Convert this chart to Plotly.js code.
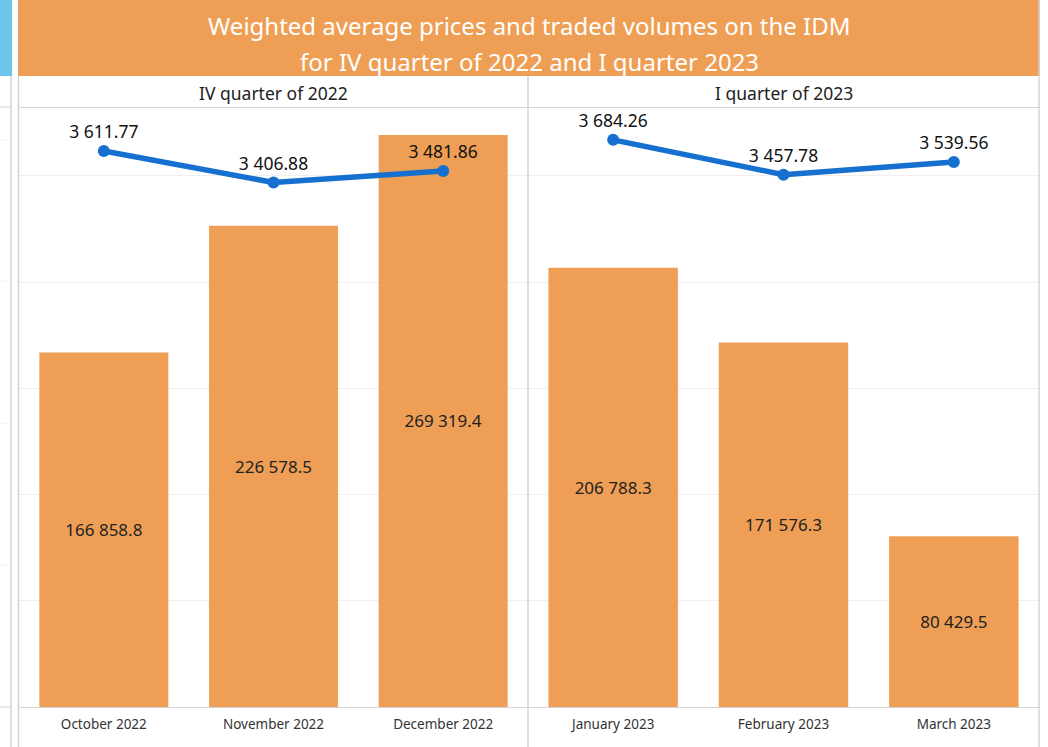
<!DOCTYPE html>
<html><head><meta charset="utf-8">
<script src="https://cdn.plot.ly/plotly-3.0.1.min.js"></script>
<style>html,body{margin:0;padding:0;background:#fff}#c{width:1048px;height:747px}</style>
</head><body><div id="c"></div>
<script>
const q4Months = ["October 2022", "November 2022", "December 2022"];
const q1Months = ["January 2023", "February 2023", "March 2023"];
const q4Volumes = [166858.8, 226578.5, 269319.4];
const q1Volumes = [206788.3, 171576.3, 80429.5];
const q4Prices = [3611.77, 3406.88, 3481.86];
const q1Prices = [3684.26, 3457.78, 3539.56];
const panelTitles = ["IV quarter of 2022", "I quarter of 2023"];
const titleLines = ["Weighted average prices and traded volumes on the IDM", "for IV quarter of 2022 and I quarter 2023"];

const W = 1048, H = 747;
const px = x => x / W, py = y => 1 - y / H;
const FONT = "Noto Sans, Open Sans, sans-serif";
const ORANGE = "#EE9F55", BLUE = "#1670D0";

function fmt(v, dec) {
  const parts = v.toFixed(dec).split(".");
  const intp = parts[0].replace(/\B(?=(\d{3})+(?!\d))/g, " ");
  return intp + (parts[1] ? "." + parts[1] : "");
}

function barTrace(xs, ys, xa, ya) {
  return {type: "bar", x: xs, y: ys, xaxis: xa, yaxis: ya, width: 0.76,
    marker: {color: ORANGE, line: {width: 0}},
    text: ys.map(v => fmt(v, 1)), textposition: "inside", insidetextanchor: "middle",
    textangle: 0, insidetextfont: {family: FONT, size: 17, color: "#222"},
    hoverinfo: "skip", showlegend: false, cliponaxis: false};
}
function lineTrace(xs, ys, xa, ya) {
  return {type: "scatter", mode: "lines+markers+text", x: xs, y: ys, xaxis: xa, yaxis: ya,
    line: {color: BLUE, width: 5.5}, marker: {color: BLUE, size: 12},
    text: ys.map(v => fmt(v, 2)), textposition: "top center",
    textfont: {family: FONT, size: 17.5, color: "#111"},
    hoverinfo: "skip", showlegend: false, cliponaxis: false};
}

const yDom = [py(707), py(108)];
const volRange = [0, 282000];
const priceRange = [0, 3891];

const data = [
  barTrace(q4Months, q4Volumes, "x", "y"),
  barTrace(q1Months, q1Volumes, "x2", "y3"),
  lineTrace(q4Months, q4Prices, "x", "y2"),
  lineTrace(q1Months, q1Prices, "x2", "y4"),
];

const xCommon = {type: "category", showgrid: false, zeroline: false, showline: false, ticks: "",
  ticklabelstandoff: 7, tickfont: {family: FONT, size: 13.5, color: "#333"}, fixedrange: true};
const yVol = {domain: yDom, range: volRange, dtick: 50000, showgrid: true, gridcolor: "#efefef", gridwidth: 1,
  zeroline: false, showticklabels: false, ticks: "", showline: false, fixedrange: true};
const yPrice = {domain: yDom, range: priceRange, showgrid: false, zeroline: false, showticklabels: false,
  ticks: "", showline: false, fixedrange: true};

const shapes = [];
function rect(x0, y0, x1, y1, color) {
  shapes.push({type: "rect", xref: "paper", yref: "paper", x0: px(x0), x1: px(x1), y0: py(y1), y1: py(y0),
    fillcolor: color, line: {width: 0}, layer: "below"});
}
function line(x0, y0, x1, y1, color, w) {
  shapes.push({type: "line", xref: "paper", yref: "paper", x0: px(x0), x1: px(x1), y0: py(y0), y1: py(y1),
    line: {color: color, width: w || 1}, layer: "above"});
}
rect(0, 0, 12, 76, "#6DC5EB");
rect(18, 0, 1040, 76, ORANGE);
[107, 140, 281, 423, 565, 707].forEach((y, i) => line(0, y, 10, y, i === 0 || i === 5 ? "#d6d6d6" : "#f0f0f0", 1));
line(11, 76, 11, 747, "#d4d4d4", 1.5);
line(18.5, 76, 18.5, 747, "#d4d4d4", 1.5);
line(528, 76, 528, 747, "#d4d4d4", 1.5);
line(1039, 0, 1039, 747, "#d4d4d4", 1.5);
line(18, 107.5, 1040, 107.5, "#d4d4d4", 1);
line(18, 707.5, 1040, 707.5, "#d4d4d4", 1);

const annotations = [
  {text: titleLines[0], xref: "paper", yref: "paper", x: px(529), y: py(26), xanchor: "center", yanchor: "middle",
   showarrow: false, font: {family: FONT, size: 24, color: "#fff"}},
  {text: titleLines[1], xref: "paper", yref: "paper", x: px(529), y: py(61), xanchor: "center", yanchor: "middle",
   showarrow: false, font: {family: FONT, size: 24, color: "#fff"}},
  {text: panelTitles[0], xref: "paper", yref: "paper", x: px(273), y: py(93), xanchor: "center", yanchor: "middle",
   showarrow: false, font: {family: FONT, size: 17.5, color: "#222"}},
  {text: panelTitles[1], xref: "paper", yref: "paper", x: px(784), y: py(93), xanchor: "center", yanchor: "middle",
   showarrow: false, font: {family: FONT, size: 17.5, color: "#222"}},
];

const layout = {
  width: W, height: H, margin: {l: 0, r: 0, t: 0, b: 0}, paper_bgcolor: "#fff", plot_bgcolor: "rgba(0,0,0,0)",
  font: {family: FONT}, showlegend: false, bargap: 0.24,
  xaxis: Object.assign({}, xCommon, {domain: [px(19), px(528)], anchor: "y"}),
  xaxis2: Object.assign({}, xCommon, {domain: [px(528), px(1039)], anchor: "y3"}),
  yaxis: Object.assign({}, yVol, {anchor: "x"}),
  yaxis2: Object.assign({}, yPrice, {anchor: "x", overlaying: "y"}),
  yaxis3: Object.assign({}, yVol, {anchor: "x2"}),
  yaxis4: Object.assign({}, yPrice, {anchor: "x2", overlaying: "y3"}),
  shapes: shapes, annotations: annotations,
};
Plotly.newPlot("c", data, layout, {staticPlot: true, displayModeBar: false});
</script></body></html>
